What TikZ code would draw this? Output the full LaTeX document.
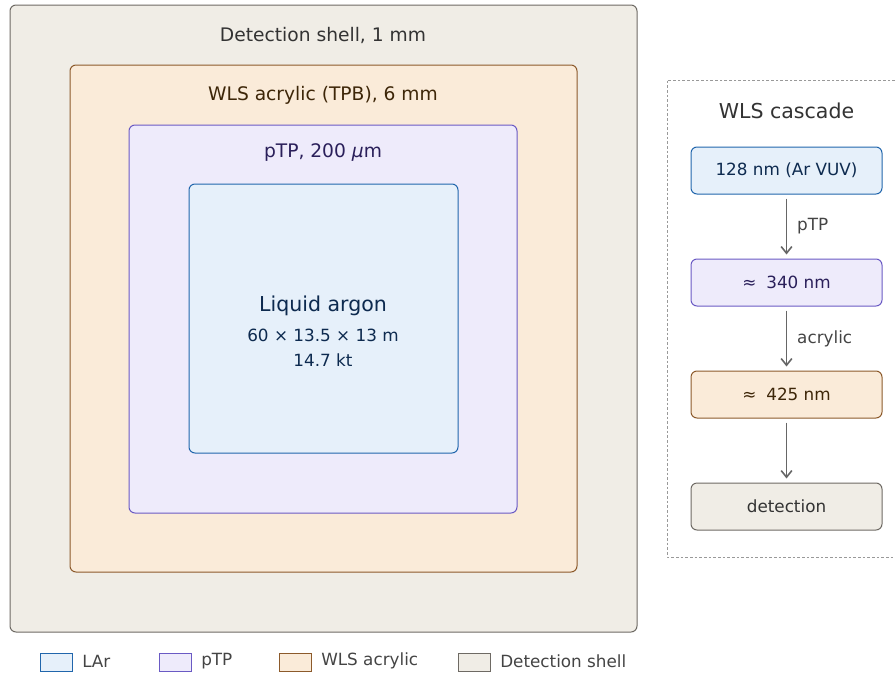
\documentclass[tikz,border=0pt]{standalone}
\usepackage{fontspec}
\setmainfont{DejaVu Sans}
\usetikzlibrary{arrows.meta}
\definecolor{shellfill}{HTML}{F0EDE6}
\definecolor{shelldraw}{HTML}{6E6A64}
\definecolor{shelltext}{HTML}{333333}
\definecolor{acrfill}{HTML}{FAEBD9}
\definecolor{acrdraw}{HTML}{8C5A2B}
\definecolor{acrtext}{HTML}{3D2608}
\definecolor{ptpfill}{HTML}{EEEBFB}
\definecolor{ptpdraw}{HTML}{6A5AC4}
\definecolor{ptptext}{HTML}{2A1F5A}
\definecolor{larfill}{HTML}{E6F0FA}
\definecolor{lardraw}{HTML}{2166AC}
\definecolor{lartext}{HTML}{0D2A4F}
\definecolor{arrowgrey}{HTML}{666666}
\definecolor{labgrey}{HTML}{444444}
\definecolor{dashgrey}{HTML}{999999}
\tikzset{
  layer/.style={rounded corners=4.5pt, line width=0.75pt},
  casc/.style={rounded corners=4.5pt, line width=0.75pt, minimum width=143.25pt, minimum height=35.25pt, font=\fontsize{12.6}{14}\selectfont, inner sep=0pt},
  flow/.style={draw=arrowgrey, line width=1.4pt, -{Straight Barb[length=5pt,width=8pt,line width=1.2pt]}},
  legbox/.style={minimum width=24pt, minimum height=13.5pt, inner sep=0pt, line width=0.75pt},
  legtext/.style={anchor=west, font=\fontsize{12.6}{14}\selectfont, text=labgrey, inner sep=0pt},
  flowlab/.style={right=4pt, text=labgrey, font=\fontsize{12.6}{14}\selectfont}
}
\begin{document}
\begin{tikzpicture}[x=0.75pt,y=-0.75pt]
\useasboundingbox (0,0) rectangle (896,675);
% layers
\draw[layer, fill=shellfill, draw=shelldraw] (10,5) rectangle (637,632);
\draw[layer, fill=acrfill, draw=acrdraw] (70,65) rectangle (577,572);
\draw[layer, fill=ptpfill, draw=ptpdraw] (129,125) rectangle (517,513);
\draw[layer, fill=larfill, draw=lardraw] (189,184) rectangle (458,453);
\node[text=shelltext, font=\fontsize{14}{16}\selectfont] (tshell) at (323,35) {Detection shell, 1 mm};
\node[text=acrtext, font=\fontsize{14}{16}\selectfont] (tacr) at (323,95) {WLS acrylic (TPB), 6 mm};
\node[text=ptptext, font=\fontsize{14}{16}\selectfont] (tptp) at (323,153) {pTP, 200 {\itshape μ}m};
\node[text=lartext, font=\fontsize{15.4}{17}\selectfont] (tlar) at (323,306) {Liquid argon};
\node[text=lartext, font=\fontsize{12.6}{14}\selectfont] (tdim) at (323,335) {60 × 13.5 × 13 m};
\node[text=lartext, font=\fontsize{12.6}{14}\selectfont] (tmass) at (323,360) {14.7 kt};
% cascade
\draw[draw=dashgrey, dash pattern=on 2pt off 1.5pt, line width=0.75pt] (895,80) -- (667,80) -- (667,557) -- (895,557);
\node[text=shelltext, font=\fontsize{15.4}{17}\selectfont] (tcasc) at (786.5,111) {WLS cascade};
\node[casc, fill=larfill, draw=lardraw, text=lartext] (c1) at (786.5,170.5) {128 nm (Ar VUV)};
\node[casc, fill=ptpfill, draw=ptpdraw, text=ptptext] (c2) at (786.5,282.5) {≈\; 340 nm};
\node[casc, fill=acrfill, draw=acrdraw, text=acrtext] (c3) at (786.5,394.5) {≈\; 425 nm};
\node[casc, fill=shellfill, draw=shelldraw, text=shelltext] (c4) at (786.5,506.5) {detection};
\draw[flow] ([yshift=-3pt]c1.south) -- ([yshift=3pt]c2.north) node[midway, flowlab] {pTP};
\draw[flow] ([yshift=-3pt]c2.south) -- ([yshift=3pt]c3.north) node[midway, flowlab] {acrylic};
\draw[flow] ([yshift=-3pt]c3.south) -- ([yshift=3pt]c4.north);
% legend
\node[legbox, fill=larfill, draw=lardraw] (l1) at (56,662) {};
\node[legtext] (lt1) at (82,661) {LAr};
\node[legbox, fill=ptpfill, draw=ptpdraw] (l2) at (175,662) {};
\node[legtext] (lt2) at (201,661) {pTP};
\node[legbox, fill=acrfill, draw=acrdraw] (l3) at (295,662) {};
\node[legtext] (lt3) at (321,661) {WLS acrylic};
\node[legbox, fill=shellfill, draw=shelldraw] (l4) at (474,662) {};
\node[legtext] (lt4) at (500,661) {Detection shell};
\end{tikzpicture}
\end{document}
